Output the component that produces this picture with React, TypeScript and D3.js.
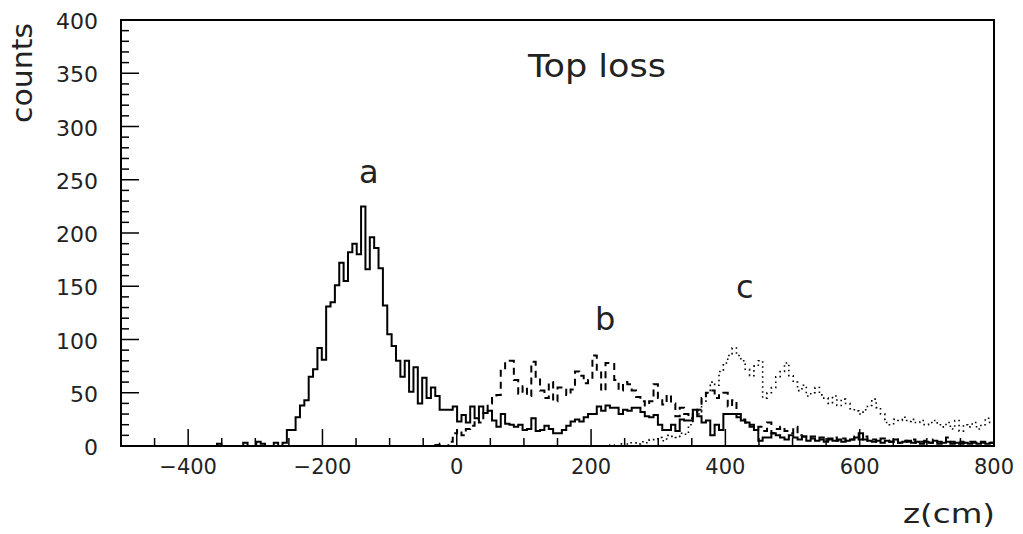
import React from "react";
import * as d3 from "d3";

// ---- data ----
const X_MIN = -500;
const X_MAX = 800;
const BIN_WIDTH = 6.5;
const Y_MIN = 0;
const Y_MAX = 400;

const xTickLabels = [-400, -200, 0, 200, 400, 600, 800];
const yTickLabels = [0, 50, 100, 150, 200, 250, 300, 350, 400];

// series a (solid) — first bin index
const aStartBin = 21;
const aValues = [
  0, 2, 0, 0, 0, 0, 0, 3, 0, 0, 4, 2, 0, 0, 3, 0, 3, 15, 15, 27,
  38, 43, 65, 72, 92, 81, 131, 135, 151, 172, 155, 182, 190, 180, 225, 166, 196, 186, 167, 132,
  105, 94, 80, 65, 80, 51, 74, 40, 64, 45, 55, 47, 34, 34, 34, 37, 23, 29, 22, 37,
  26, 37, 31, 33, 24, 18, 30, 21, 20, 18, 20, 15, 16, 26, 14, 15, 19, 16, 12, 12,
  15, 19, 23, 25, 23, 27, 30, 30, 37, 33, 38, 36, 36, 30, 34, 33, 36, 36, 32, 28,
  27, 29, 20, 15, 15, 20, 14, 25, 24, 24, 34, 28, 22, 24, 10, 20, 15, 30, 30, 30,
  27, 24, 22, 18, 15, 5, 8, 8, 12, 10, 8, 6, 10, 8, 6, 9, 5, 7, 5, 6,
  4, 7, 5, 6, 4, 5, 6, 8, 12, 6, 5, 4, 5, 3, 5, 4, 6, 3, 4, 5,
  3, 4, 2, 4, 3, 5, 2, 3, 4, 2, 3, 2, 3, 2, 3, 2, 3, 2, 3,
];

// series b (dashed)
const bStartBin = 72;
const bValues = [
  1, 2, 0, 4, 12, 15, 10, 16, 19, 25, 22, 33, 40, 45, 48, 72, 80, 80, 62, 49,
  56, 47, 79, 65, 52, 45, 60, 42, 55, 55, 48, 53, 70, 66, 59, 62, 85, 69, 52, 78,
  78, 62, 52, 60, 58, 52, 46, 42, 38, 42, 58, 45, 39, 48, 40, 28, 36, 30, 26, 30,
  34, 45, 50, 52, 45, 49, 50, 37, 43, 30, 25, 22, 20, 16, 18, 14, 22, 12, 16, 18,
  14, 12, 18, 10, 9, 8, 9, 7, 8, 5, 6, 8, 5, 7, 5, 6, 9, 6, 9, 5,
  6, 4, 7, 5, 4, 6, 3, 5, 4, 6, 3, 4, 5, 3, 6, 4, 3, 8, 4, 3,
  4, 3, 4, 4, 3, 4, 4, 3,
];

// series c (dotted)
const cStartBin = 112;
const cValues = [
  1, 0, 2, 0, 3, 3, 2, 4, 3, 6, 6, 8, 5, 10, 9, 8, 12, 11, 20, 33,
  30, 42, 50, 60, 57, 70, 78, 85, 92, 85, 80, 72, 66, 75, 80, 45, 50, 55, 65, 70,
  78, 66, 60, 52, 57, 47, 50, 55, 48, 45, 40, 47, 38, 44, 40, 35, 33, 30, 34, 38,
  44, 36, 30, 22, 20, 25, 24, 27, 23, 25, 22, 24, 20, 22, 24, 20, 18, 22, 16, 24,
  14, 20, 18, 22, 16, 20, 26, 22,
];

const seriesLabels = [
  { text: "a", x: -131, y: 247 },
  { text: "b", x: 221, y: 109 },
  { text: "c", x: 429, y: 139 },
];

// ---- layout ----
const W = 1023;
const H = 534;
const L = 121;
const R = 994;
const T = 20;
const B = 446;

export default function App() {
  const x = d3.scaleLinear().domain([X_MIN, X_MAX]).range([L, R]);
  const y = d3.scaleLinear().domain([Y_MIN, Y_MAX]).range([B, T]);

  const stepPath = (start: number, values: number[]) => {
    const pts: [number, number][] = [];
    const first = X_MIN + start * BIN_WIDTH;
    pts.push([first, 0]);
    values.forEach((v, i) => {
      const x0 = X_MIN + (start + i) * BIN_WIDTH;
      const x1 = Math.min(x0 + BIN_WIDTH, X_MAX);
      pts.push([x0, v]);
      pts.push([x1, v]);
    });
    const last = Math.min(X_MIN + (start + values.length) * BIN_WIDTH, X_MAX);
    pts.push([last, 0]);
    return d3
      .line<[number, number]>()
      .x((d) => x(d[0]))
      .y((d) => y(d[1]))(pts) as string;
  };

  const yMinor = d3.range(Y_MIN, Y_MAX + 1, 10);
  const xMinor = d3.range(X_MIN, X_MAX + 1, 50);
  const font = "'DejaVu Sans', sans-serif";

  return (
    <svg width={W} height={H} style={{ display: "block", position: "absolute", left: 0, top: 0, background: "#fff" }}>
      <rect x={0} y={0} width={W} height={H} fill="#fff" />
      {/* histograms */}
      <path d={stepPath(cStartBin, cValues)} fill="none" stroke="#000" strokeWidth={1.6} strokeDasharray="1.6 3.4" />
      <path d={stepPath(bStartBin, bValues)} fill="none" stroke="#000" strokeWidth={2} strokeDasharray="7 5" />
      <path d={stepPath(aStartBin, aValues)} fill="none" stroke="#000" strokeWidth={2} />

      {/* y ticks */}
      {yMinor.map((v) => (
        <line key={"yt" + v} x1={L} x2={L + (v % 50 === 0 ? 18 : 8)} y1={y(v)} y2={y(v)} stroke="#000" strokeWidth={1.5} />
      ))}
      {/* x ticks */}
      {xMinor.map((v) => (
        <line key={"xt" + v} x1={x(v)} x2={x(v)} y1={B} y2={B - (v % 200 === 0 ? 17 : 8)} stroke="#000" strokeWidth={1.5} />
      ))}
      {/* frame */}
      <rect x={L} y={T} width={R - L} height={B - T} fill="none" stroke="#000" strokeWidth={2} />

      {/* y tick labels */}
      {yTickLabels.map((v) => (
        <text key={"yl" + v} x={98} y={y(v) + 9} textAnchor="end" fontFamily={font} fontSize={22} fill="#222">
          {v}
        </text>
      ))}
      {/* x tick labels */}
      {xTickLabels.map((v) => (
        <text key={"xl" + v} x={x(v)} y={474} textAnchor="middle" fontFamily={font} fontSize={21} fill="#222">
          {v < 0 ? "\u2212" + Math.abs(v) : v}
        </text>
      ))}

      {/* axis titles */}
      <text
        transform={`translate(32,73) rotate(-90)`}
        textAnchor="middle"
        fontFamily={font}
        fontSize={28}
        fill="#222"
        textLength={100}
        lengthAdjust="spacingAndGlyphs"
      >
        counts
      </text>
      <text x={949} y={523} textAnchor="middle" fontFamily={font} fontSize={27} fill="#222" textLength={92} lengthAdjust="spacingAndGlyphs">
        z(cm)
      </text>
      <text x={597} y={77} textAnchor="middle" fontFamily={font} fontSize={32} fill="#222" textLength={138} lengthAdjust="spacingAndGlyphs">
        Top loss
      </text>
      {seriesLabels.map((s) => (
        <text key={s.text} x={x(s.x)} y={y(s.y)} textAnchor="middle" fontFamily={font} fontSize={32} fill="#222">
          {s.text}
        </text>
      ))}
    </svg>
  );
}
